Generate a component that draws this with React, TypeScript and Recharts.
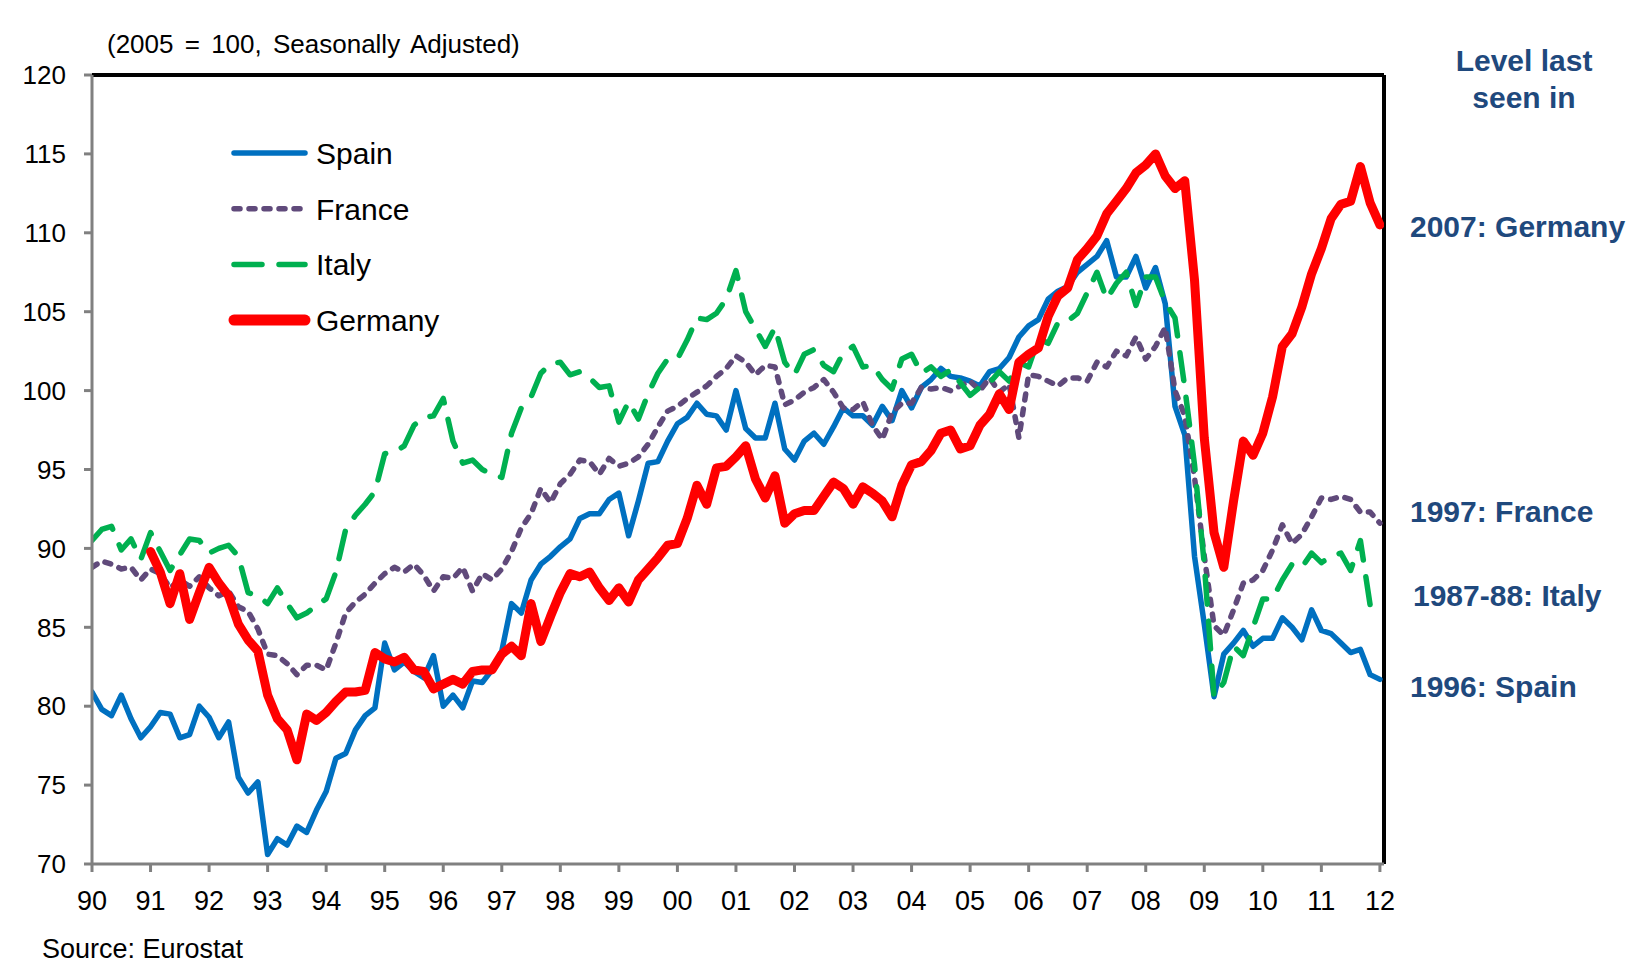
import React from 'react';
import { LineChart, Line, XAxis, YAxis, ReferenceLine, Legend } from 'recharts';

// bi-monthly observations, starting Jan 1990 (6 per year), last point Jan 2012
const START_YEAR = 1990;
const PER_YEAR = 6;

const spain = [
  80.9, 79.8, 79.4, 80.7, 79.2, 78.0,
  78.7, 79.6, 79.5, 78.0, 78.2, 80.0,
  79.3, 78.0, 79.0, 75.5, 74.5, 75.2,
  70.6, 71.6, 71.2, 72.4, 72.0, 73.4,
  74.6, 76.7, 77.0, 78.5, 79.4, 79.9,
  84.0, 82.3, 82.8, 82.2, 81.8, 83.2,
  80.0, 80.7, 79.9, 81.6, 81.5, 82.3,
  83.5, 86.5, 85.9, 88.0, 89.0, 89.5,
  90.1, 90.6, 91.9, 92.2, 92.2, 93.1,
  93.5, 90.8, 93.0, 95.4, 95.5, 96.8,
  97.9, 98.3, 99.2, 98.5, 98.4, 97.5,
  100.0, 97.6, 97.0, 97.0, 99.2, 96.3,
  95.6, 96.8, 97.3, 96.6, 97.7, 98.9,
  98.4, 98.4, 97.8, 99.0, 98.1, 100.0,
  98.9, 100.2, 100.7, 101.4, 100.9, 100.8,
  100.6, 100.3, 101.2, 101.4, 102.1, 103.4,
  104.1, 104.5, 105.8, 106.3, 106.6, 107.5,
  108.0, 108.5, 109.5, 107.2, 107.2, 108.5,
  106.5, 107.8, 105.5, 99.0, 97.2, 89.5,
  85.2, 80.6, 83.3, 84.0, 84.8, 83.8,
  84.3, 84.3, 85.6, 85.0, 84.2, 86.1,
  84.8, 84.6, 84.0, 83.4, 83.6, 82.0,
  81.7,
];

const france = [
  88.8, 89.2, 89.0, 88.7, 88.8, 88.0,
  88.7, 88.4, 87.5, 88.0, 87.6, 88.2,
  87.5, 87.0, 87.3, 86.3, 86.0, 84.9,
  83.3, 83.2, 82.7, 82.0, 82.6, 82.6,
  82.3, 84.0, 85.9, 86.6, 87.1, 87.8,
  88.4, 88.8, 88.5, 89.0, 88.3, 87.3,
  88.2, 88.1, 88.8, 87.3, 88.4, 88.0,
  88.7, 89.8, 91.3, 92.2, 93.8, 92.9,
  94.1, 94.7, 95.6, 95.5, 94.7, 95.7,
  95.2, 95.4, 95.8, 96.6, 97.7, 98.7,
  99.0, 99.5, 99.9, 100.3, 100.9, 101.4,
  102.2, 101.8, 101.0, 101.6, 101.5, 99.1,
  99.4, 99.9, 100.2, 100.7, 99.9, 98.9,
  98.8, 99.3, 97.8, 96.9, 98.6, 99.2,
  99.2, 100.2, 100.1, 100.2, 100.0, 100.3,
  100.6, 100.0, 100.8, 99.9, 100.4, 97.0,
  101.0, 100.9, 100.6, 100.3, 100.8, 100.8,
  100.6, 101.8, 101.5, 102.5, 102.2, 103.4,
  102.0, 102.8, 104.0, 100.0, 98.4, 94.5,
  89.5, 85.1, 84.5, 86.1, 87.8, 88.0,
  88.6, 89.9, 91.5, 90.3, 90.9, 92.0,
  93.2, 93.1, 93.3, 93.1, 92.3, 92.3,
  91.6,
];

const italy = [
  90.5, 91.2, 91.4, 89.9, 90.6, 89.3,
  91.0, 89.8, 88.6, 89.6, 90.6, 90.5,
  89.7, 90.0, 90.2, 89.5, 87.2, 87.0,
  86.5, 87.5, 86.5, 85.6, 85.9, 86.4,
  86.8, 88.5, 91.2, 92.1, 92.8, 93.6,
  96.0, 96.1, 96.5, 97.8, 98.3, 98.4,
  99.5, 96.8, 95.4, 95.6, 95.0, 94.7,
  94.5, 97.3, 98.9, 99.6, 101.1, 101.7,
  101.8, 101.0, 101.2, 100.8, 100.2, 100.3,
  98.0, 99.3, 98.2, 99.8, 101.1, 102.0,
  102.0, 103.2, 104.6, 104.5, 104.9, 105.8,
  107.6, 105.0, 103.9, 102.8, 104.0, 101.8,
  101.0, 102.3, 102.6, 101.6, 101.2, 102.4,
  102.8, 101.5, 101.6, 100.7, 100.1, 102.0,
  102.3, 101.1, 101.5, 100.9, 101.3, 100.5,
  99.7, 100.2, 100.5, 101.2, 100.6, 101.8,
  101.5, 103.3, 103.0, 104.3, 104.4, 104.9,
  106.2, 107.5, 105.8, 106.8, 107.5, 105.4,
  107.2, 107.2, 105.6, 104.6, 100.2, 95.3,
  89.0, 80.6, 81.5, 83.8, 83.2, 85.0,
  86.8, 86.8, 88.0, 89.0, 88.8, 89.7,
  89.1, 89.5, 89.7, 88.6, 90.5, 86.4,
  86.3,
];

const germany = [
  null, null, null, null, null, null,
  89.8, 88.5, 86.5, 88.4, 85.5, 87.2,
  88.8, 87.8, 87.0, 85.2, 84.2, 83.5,
  80.7, 79.2, 78.5, 76.6, 79.5, 79.1,
  79.6, 80.3, 80.9, 80.9, 81.0, 83.4,
  83.0, 82.8, 83.1, 82.3, 82.2, 81.1,
  81.4, 81.7, 81.4, 82.2, 82.3, 82.3,
  83.3, 83.8, 83.2, 86.5, 84.1, 85.7,
  87.2, 88.4, 88.2, 88.5, 87.5, 86.7,
  87.5, 86.6, 88.0, 88.7, 89.4, 90.2,
  90.3, 91.9, 94.0, 92.8, 95.1, 95.2,
  95.8, 96.5, 94.4, 93.2, 94.6, 91.6,
  92.2, 92.4, 92.4, 93.3, 94.2, 93.8,
  92.8, 93.9, 93.5, 93.0, 92.0, 94.0,
  95.3, 95.5, 96.2, 97.3, 97.5, 96.3,
  96.5, 97.8, 98.5, 99.8, 98.8, 101.8,
  102.3, 102.7, 104.7, 106.0, 106.5, 108.3,
  109.0, 109.8, 111.2, 112.0, 112.8, 113.8,
  114.3, 115.0, 113.6, 112.8, 113.3, 107.0,
  97.0, 91.0, 88.8, 93.0, 96.8, 95.9,
  97.3, 99.6, 102.8, 103.6, 105.3, 107.4,
  109.0, 110.9, 111.8, 112.0, 114.2, 111.9,
  110.5,
];

const yTicks = [70, 75, 80, 85, 90, 95, 100, 105, 110, 115, 120];
const xTicks = [1990, 1991, 1992, 1993, 1994, 1995, 1996, 1997, 1998, 1999, 2000, 2001,
  2002, 2003, 2004, 2005, 2006, 2007, 2008, 2009, 2010, 2011, 2012];
const xTickLabels = ['90', '91', '92', '93', '94', '95', '96', '97', '98', '99', '00', '01',
  '02', '03', '04', '05', '06', '07', '08', '09', '10', '11', '12'];

const levelNotes = [
  { text: '2007: Germany', left: 1410, top: 227 },
  { text: '1997: France', left: 1410, top: 512 },
  { text: '1987-88: Italy', left: 1413, top: 596 },
  { text: '1996: Spain', left: 1410, top: 687 },
];

const X_MAX = 2012.07;
const FONT = '"Liberation Sans", Arial, sans-serif';
const NOTE_COLOR = '#1f497d';

const SERIES = [
  { key: 'spain', name: 'Spain', color: '#0070c0', width: 5.5, dash: undefined as string | undefined },
  { key: 'france', name: 'France', color: '#604a7b', width: 5.5, dash: '6 9' },
  { key: 'italy', name: 'Italy', color: '#00b050', width: 5.5, dash: '28 17' },
  { key: 'germany', name: 'Germany', color: '#ff0000', width: 9, dash: undefined as string | undefined },
];

const data = spain.map((_, i) => ({
  t: START_YEAR + i / PER_YEAR,
  spain: spain[i],
  france: france[i],
  italy: italy[i],
  germany: germany[i],
}));

const renderLegend = () => (
  <svg width={260} height={230} style={{ display: 'block' }}>
    {SERIES.map((s, i) => {
      const y = 28 + i * 55.7;
      return (
        <g key={s.key}>
          <line x1={9} x2={80} y1={y} y2={y} stroke={s.color} strokeWidth={s.key === 'germany' ? 11 : s.width}
            strokeDasharray={s.dash} strokeLinecap="round" />
          <text x={91} y={y} dy="0.36em" fontSize={30} fontFamily={FONT} fill="#000">{s.name}</text>
        </g>
      );
    })}
  </svg>
);

export default function App() {
  return (
    <div style={{ position: 'absolute', left: 0, top: 0, width: 1634, height: 964, background: '#fff', fontFamily: FONT }}>
      <LineChart width={1634} height={964} data={data}
        margin={{ top: 75, right: 250, bottom: 0, left: 0 }}>
        <XAxis dataKey="t" type="number" domain={[START_YEAR, X_MAX]} ticks={xTicks} interval={0}
          tickFormatter={(v: number) => xTickLabels[xTicks.indexOf(Math.round(v))] ?? ''}
          height={100} tickSize={8} tickMargin={19}
          axisLine={{ stroke: '#808080', strokeWidth: 3 }}
          tickLine={{ stroke: '#808080', strokeWidth: 3 }}
          tick={{ fill: '#000', fontSize: 27, fontFamily: FONT }} allowDataOverflow />
        <YAxis type="number" domain={[70, 120]} ticks={yTicks} interval={0} width={92}
          tickSize={8} tickMargin={18}
          axisLine={{ stroke: '#808080', strokeWidth: 3 }}
          tickLine={{ stroke: '#808080', strokeWidth: 3 }}
          tick={{ fill: '#000', fontSize: 26, fontFamily: FONT }} allowDataOverflow />
        <ReferenceLine y={120} stroke="#000" strokeWidth={4} />
        <ReferenceLine x={X_MAX} stroke="#000" strokeWidth={4} />
        {SERIES.map((s) => (
          <Line key={s.key} dataKey={s.key} name={s.name} type="linear" stroke={s.color}
            strokeWidth={s.width} strokeDasharray={s.dash} strokeLinecap="round" strokeLinejoin="round"
            dot={false} activeDot={false} isAnimationActive={false} connectNulls={false} />
        ))}
        <Legend layout="vertical" align="center" verticalAlign="middle" content={renderLegend}
          wrapperStyle={{ position: 'absolute', left: 225, top: 125, width: 260, height: 230 }} />
      </LineChart>
      <div style={{ position: 'absolute', left: 107, top: 44, transform: 'translateY(-50%)', fontSize: 26, whiteSpace: 'nowrap', color: '#000', wordSpacing: 4 }}>
        (2005 = 100, Seasonally Adjusted)
      </div>
      <div style={{ position: 'absolute', left: 1424, width: 200, top: 42, textAlign: 'center', fontSize: 30, fontWeight: 'bold', lineHeight: '37px', color: NOTE_COLOR }}>
        Level last<br />seen in
      </div>
      {levelNotes.map((n) => (
        <div key={n.text} style={{ position: 'absolute', left: n.left, top: n.top, transform: 'translateY(-50%)', fontSize: 30, fontWeight: 'bold', whiteSpace: 'nowrap', color: NOTE_COLOR }}>
          {n.text}
        </div>
      ))}
      <div style={{ position: 'absolute', left: 42, top: 949, transform: 'translateY(-50%)', fontSize: 27, whiteSpace: 'nowrap', color: '#000' }}>
        Source: Eurostat
      </div>
    </div>
  );
}
